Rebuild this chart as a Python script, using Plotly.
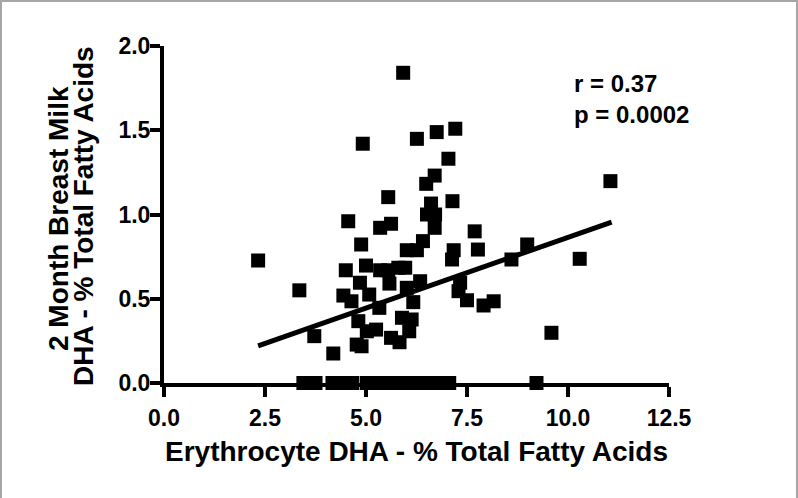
import plotly.graph_objects as go

# ---- data ----
milk_x = [2.33, 3.35, 3.72, 4.19, 4.56, 4.88, 4.50, 5.00, 4.44, 4.64, 4.85, 5.08,
          4.81, 5.02, 5.25, 4.77, 4.89, 5.33, 5.55, 5.35, 5.62, 5.35, 5.58, 5.55,
          5.80, 5.97, 5.62, 5.83, 5.89, 6.13, 6.07, 6.17, 6.01, 6.34, 6.01, 6.26,
          6.41, 6.51, 6.71, 6.70, 6.61, 7.14, 6.49, 6.70, 7.04, 7.21, 6.75, 6.26,
          4.92, 5.92, 7.69, 7.77, 7.17, 7.13, 7.33, 7.29, 7.50, 7.91, 8.16, 8.60,
          8.99, 10.29, 11.05, 9.59,
          3.45, 3.75, 4.17, 4.40, 4.66, 5.02, 5.30, 5.55, 5.80, 6.05, 6.30, 6.55,
          6.80, 7.06, 9.22]
milk_y = [0.727, 0.550, 0.278, 0.175, 0.960, 0.822, 0.669, 0.697, 0.519, 0.485, 0.595, 0.525,
          0.367, 0.307, 0.317, 0.228, 0.218, 0.446, 1.103, 0.921, 0.945, 0.669, 0.590, 0.669,
          0.684, 0.684, 0.268, 0.242, 0.387, 0.377, 0.307, 0.480, 0.565, 0.604, 0.788, 0.788,
          0.842, 1.000, 1.000, 0.921, 1.065, 1.079, 1.182, 1.231, 1.331, 1.509, 1.489, 1.449,
          1.420, 1.841, 0.900, 0.792, 0.788, 0.733, 0.595, 0.545, 0.491, 0.460, 0.485, 0.733,
          0.822, 0.737, 1.198, 0.298,
          0.0, 0.0, 0.0, 0.0, 0.0, 0.0, 0.0, 0.0, 0.0, 0.0, 0.0, 0.0,
          0.0, 0.0, 0.0]

fit_x = [2.33, 11.08]
fit_y = [0.220, 0.955]

x_ticks = [0.0, 2.5, 5.0, 7.5, 10.0, 12.5]
x_tick_labels = ["0.0", "2.5", "5.0", "7.5", "10.0", "12.5"]
y_ticks = [0.0, 0.5, 1.0, 1.5, 2.0]
y_tick_labels = ["0.0", "0.5", "1.0", "1.5", "2.0"]

x_title = "Erythrocyte DHA - % Total Fatty Acids"
y_title_1 = "2 Month Breast Milk"
y_title_2 = "DHA - % Total Fatty Acids"
stats_text = "r = 0.37<br>p = 0.0002"

# ---- layout geometry (pixels) ----
W, H = 798, 498
L, R, T, B = 164, 129, 46, 115
PW, PH = W - L - R, H - T - B


def px_x(px):
    return (px - L) / PW


def px_y(py):
    return (H - B - py) / PH


FONT = "Liberation Sans, Arial, sans-serif"

fig = go.Figure()
fig.add_trace(go.Scatter(
    x=milk_x, y=milk_y, mode="markers",
    marker=dict(symbol="square", size=14, color="black", line=dict(width=0)),
    cliponaxis=False, showlegend=False,
))
fig.add_trace(go.Scatter(
    x=fit_x, y=fit_y, mode="lines",
    line=dict(color="black", width=5),
    cliponaxis=False, showlegend=False,
))

axis_common = dict(
    showline=True, linecolor="black", linewidth=4,
    ticks="outside", ticklen=10, tickwidth=4, tickcolor="black",
    showgrid=False, zeroline=False,
    tickfont=dict(family=FONT, size=23, color="black", weight="bold"),
)

fig.update_xaxes(range=[0, 12.5], tickvals=x_ticks, ticktext=x_tick_labels,
                 ticklabelstandoff=1, **axis_common)
fig.update_yaxes(range=[0, 2.0], tickvals=y_ticks, ticktext=y_tick_labels,
                 ticklabelstandoff=-5, **axis_common)

title_font = dict(family=FONT, size=28, color="black", weight="bold")
annotations = [
    dict(text=x_title, xref="paper", yref="paper", x=px_x(416), y=px_y(451),
         xanchor="center", yanchor="middle", showarrow=False, font=title_font),
    dict(text=y_title_1, xref="paper", yref="paper", x=px_x(58), y=px_y(219),
         xanchor="center", yanchor="middle", textangle=-90, showarrow=False, font=title_font),
    dict(text=y_title_2, xref="paper", yref="paper", x=px_x(83), y=px_y(216),
         xanchor="center", yanchor="middle", textangle=-90, showarrow=False, font=title_font),
    dict(text=stats_text, xref="paper", yref="paper", x=px_x(572), y=px_y(68),
         xanchor="left", yanchor="top", align="left", showarrow=False,
         font=dict(family=FONT, size=24, color="black", weight="bold")),
]

frame_col = "#a6a6a6"
shapes = [
    dict(type="line", xref="paper", yref="paper", x0=px_x(1), x1=px_x(1), y0=px_y(0), y1=px_y(H),
         line=dict(color=frame_col, width=2)),
    dict(type="line", xref="paper", yref="paper", x0=px_x(0), x1=px_x(W), y0=px_y(1), y1=px_y(1),
         line=dict(color=frame_col, width=2)),
    dict(type="line", xref="paper", yref="paper", x0=px_x(797), x1=px_x(797), y0=px_y(0), y1=px_y(H),
         line=dict(color=frame_col, width=2)),
]

fig.update_layout(
    width=W, height=H,
    margin=dict(l=L, r=R, t=T, b=B, pad=0),
    paper_bgcolor="white", plot_bgcolor="white",
    annotations=annotations, shapes=shapes,
    font=dict(family=FONT, color="black"),
)

fig.write_html("out.html")
